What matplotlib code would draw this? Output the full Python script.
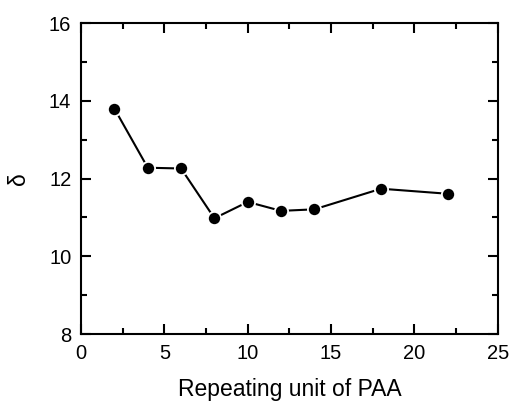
import matplotlib
matplotlib.use("Agg")
import matplotlib.pyplot as plt
from matplotlib.ticker import MultipleLocator

# data
repeat_unit = [2, 4, 6, 8, 10, 12, 14, 18, 22]
delta = [13.80, 12.28, 12.26, 10.98, 11.40, 11.17, 11.21, 11.74, 11.61]

plt.rcParams['font.family'] = ['Liberation Sans', 'DejaVu Sans']

fig = plt.figure(figsize=(5.1, 4.05), dpi=100)
ax = fig.add_axes([0.159, 0.175, 0.817, 0.768])

ax.plot(repeat_unit, delta, color='black', lw=1.5, marker='o',
        markersize=9.5, markerfacecolor='black', markeredgecolor='white',
        markeredgewidth=1.3)

ax.set_xlim(0, 25)
ax.set_ylim(8, 16)
ax.xaxis.set_major_locator(MultipleLocator(5))
ax.xaxis.set_minor_locator(MultipleLocator(2.5))
ax.yaxis.set_major_locator(MultipleLocator(2))
ax.yaxis.set_minor_locator(MultipleLocator(1))

ax.tick_params(which='both', direction='in', top=True, right=True,
               width=1.5, labelsize=14.5)
ax.tick_params(which='major', length=7, pad=7)
ax.tick_params(which='minor', length=4)
for s in ax.spines.values():
    s.set_linewidth(1.5)

ax.set_xlabel('Repeating unit of PAA', fontsize=16.5, labelpad=11)
ax.set_ylabel('δ', fontsize=16.5, labelpad=14)

fig.savefig('out.png', dpi=100)
